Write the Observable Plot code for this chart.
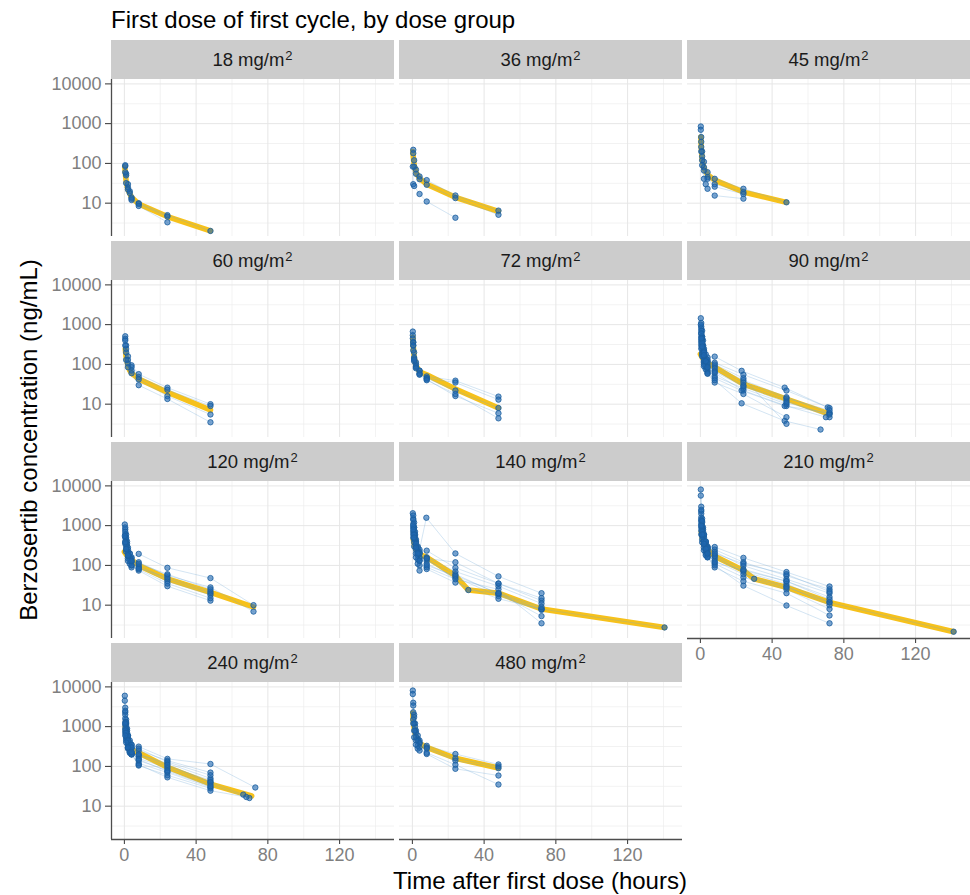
<!DOCTYPE html>
<html>
<head>
<meta charset="utf-8">
<script src="https://cdn.jsdelivr.net/npm/d3@7"></script>
<script src="https://cdn.jsdelivr.net/npm/@observablehq/plot@0.6"></script>
<style>
  body { margin: 0; background: #fff; }
  #chart { position: relative; width: 970px; height: 895px; background: #fff; font-family: "Liberation Sans", Arial, sans-serif; overflow: hidden; }
  .strip { position: absolute; background: #CCCCCC; color: #1A1A1A; font-size: 18.5px; display: flex; align-items: center; justify-content: center; }
  .strip sup { font-size: 13px; line-height: 0; position: relative; top: -4px; margin-left: 1px; }
  .ttl { position: absolute; white-space: nowrap; color: #000; }
</style>
</head>
<body>
<div id="chart"></div>
<script>
// ---------------- data ----------------
const doseLabels = ["18", "36", "45", "60", "72", "90", "120", "140", "210", "240", "480"];
const xMajor = [0, 40, 80, 120];
const xMinor = [20, 60, 100, 140];
const yMajor = [10, 100, 1000, 10000];
const yMinor = [3.1623, 31.623, 316.23, 3162.3];
const xDomain = [-7.17, 150.6];
const yDomain = [1.45, 12900];

// typical (yellow) profiles: times (h) and concentrations (ng/mL)
const typ18  = {t: [0.25, 0.5, 1, 2, 4, 8, 24, 48], c: [80, 60, 35, 22, 14, 9.5, 4.6, 2.0]};
const typ36  = {t: [0.25, 0.5, 1, 2, 4, 8, 24, 48], c: [200, 150, 90, 60, 42, 30, 14, 6.2]};
const typ45  = {t: [0.25, 0.5, 1, 2, 4, 8, 24, 48], c: [460, 250, 120, 75, 52, 38, 19, 10.5]};
const typ60  = {t: [0.5, 1, 2, 3, 4, 8, 24, 48], c: [245, 150, 95, 70, 60, 43, 20, 7.1]};
const typ72  = {t: [0.25, 0.5, 1, 2, 4, 8, 24, 48], c: [480, 300, 150, 95, 65, 55, 24, 8]};
const typ90  = {t: [0, 1, 2, 4, 8, 24, 48, 72], c: [180, 150, 130, 110, 85, 32, 13.5, 5.6]};
const typ120 = {t: [0, 1, 3, 8, 24, 48, 72], c: [220, 190, 150, 100, 46, 21, 9]};
const typ140 = {t: [0.5, 1, 2, 4, 8, 24, 31.2, 48, 72, 140.6], c: [450, 350, 250, 190, 160, 55, 24, 20, 8, 2.75]};
const typ210 = {t: [0.5, 1, 2, 4, 8, 24, 30, 48, 72, 141.2], c: [700, 500, 350, 250, 170, 75, 46, 28, 11.7, 2.15]};
const typ240 = {t: [0.5, 1, 2, 4, 8, 24, 48, 71], c: [1000, 600, 380, 260, 220, 95, 36, 18]};
const typ480 = {t: [0.25, 0.5, 1, 2, 4, 8, 24, 48], c: [2200, 1400, 900, 550, 380, 300, 160, 91]};

// individual patient profiles
const ind18 = [
  {t: [0.5, 1, 2, 3, 4, 8, 24, 48], c: [90, 55, 30, 20, 14, 10, 5, 2.0]},
  {t: [0.5, 1, 2, 3, 4, 8, 24], c: [85, 50, 25, 18, 12, 9.5, 4.6]},
  {t: [0.5, 1, 2, 4, 8, 24], c: [60, 32, 22, 13, 8.5, 3.3]}
];
const ind36 = [
  {t: [0.5, 1, 2, 4, 8, 24, 48], c: [220, 120, 70, 47, 38, 15.6, 6.5]},
  {t: [0.5, 1, 2, 4, 8, 24, 48], c: [180, 83, 55, 40, 29, 13.4, 5.1]},
  {t: [0.25, 0.5, 1, 4, 8, 24], c: [83, 30, 27, 17, 11, 4.3]}
];
const ind45 = [
  {t: [0.25, 0.5, 1, 2, 4, 8, 24, 48], c: [850, 460, 200, 110, 60, 41, 23, 10.5]},
  {t: [0.25, 0.5, 1, 2, 4, 8, 24], c: [700, 350, 150, 80, 45, 30, 19]},
  {t: [0.5, 1, 2, 4, 8, 24], c: [260, 120, 66, 41, 26, 17]},
  {t: [0.5, 1, 2, 3, 4, 8, 24], c: [200, 90, 41, 30, 23, 15.5, 13]}
];
const ind60 = [
  {t: [0.5, 1, 2, 4, 8, 24, 48], c: [510, 300, 160, 95, 57, 26, 10]},
  {t: [0.5, 1, 2, 4, 8, 24, 48], c: [440, 245, 130, 85, 48, 23, 9]},
  {t: [0.5, 1, 2, 4, 8, 24, 48], c: [300, 200, 106, 70, 42, 16, 5.5]},
  {t: [0.5, 1, 2, 4, 8, 24, 48], c: [400, 130, 85, 60, 30, 13.5, 3.5]}
];
const ind72 = [
  {t: [0.25, 0.5, 1, 2, 4, 8, 24, 48], c: [670, 360, 150, 100, 69, 50, 39, 15.5]},
  {t: [0.25, 0.5, 1, 2, 4, 8, 24, 48], c: [540, 300, 200, 113, 70, 45, 35, 13]},
  {t: [0.25, 0.5, 1, 2, 4, 8, 24, 48], c: [450, 225, 120, 85, 57, 45, 22, 8]},
  {t: [0.5, 1, 2, 4, 8, 24, 48], c: [360, 140, 90, 60, 42, 16, 5.9]},
  {t: [0.5, 1, 2, 4, 8, 24, 48], c: [300, 130, 80, 55, 40, 18, 4.4]}
];
const ind90 = [
  {t: [0.25, 0.5, 1, 1.5, 2, 4, 8, 23, 47, 71], c: [1450, 900, 500, 300, 220, 150, 157, 69, 26, 8.3]},
  {t: [0.5, 1, 1.5, 2, 3, 4, 8, 24, 48, 72], c: [1100, 700, 400, 250, 180, 120, 110, 55, 22, 8]},
  {t: [0.5, 1, 1.5, 2, 3, 4, 8, 24, 48, 72], c: [800, 500, 300, 200, 140, 100, 90, 40, 15, 6]},
  {t: [0.5, 1, 1.5, 2, 3, 4, 8, 24, 48, 72], c: [600, 400, 250, 160, 120, 90, 70, 30, 12.3, 4.7]},
  {t: [0.5, 1, 1.5, 2, 3, 4, 8, 24, 48, 70], c: [500, 300, 200, 130, 100, 80, 60, 22, 9, 4.7]},
  {t: [0.5, 1, 1.5, 2, 3, 4, 8, 24, 48], c: [400, 250, 160, 110, 85, 70, 50, 25, 10]},
  {t: [0.5, 1, 2, 3, 4, 8, 23, 47, 72], c: [350, 200, 120, 90, 65, 45, 22, 9, 6]},
  {t: [0.5, 1, 2, 3, 4, 8, 24, 48], c: [300, 180, 100, 75, 58, 35, 18, 4.7]},
  {t: [0.5, 1, 2, 4, 8, 23, 47, 67], c: [250, 160, 90, 60, 40, 10.5, 3.8, 2.3]},
  {t: [0.5, 1, 2, 4, 8, 24, 48], c: [700, 450, 220, 130, 100, 45, 3.2]},
  {t: [0.25, 0.5, 1, 2, 4, 8, 24, 48, 72], c: [1000, 600, 350, 200, 110, 80, 35, 14, 7]},
  {t: [0.5, 1, 2, 3, 4, 8, 24, 48, 72], c: [450, 280, 170, 120, 85, 65, 28, 11, 5.5]}
];
const ind120 = [
  {t: [0.25, 0.5, 1, 1.5, 2, 3, 4, 8, 24, 48, 72], c: [1070, 800, 500, 350, 250, 200, 160, 195, 87, 48, 10]},
  {t: [0.5, 1, 1.5, 2, 3, 4, 8, 24, 48, 72], c: [900, 600, 400, 280, 200, 150, 120, 56, 28, 6.9]},
  {t: [0.5, 1, 1.5, 2, 3, 4, 8, 24, 48], c: [700, 450, 300, 220, 160, 130, 100, 45, 20]},
  {t: [0.5, 1, 2, 3, 4, 8, 24, 48], c: [600, 350, 200, 150, 120, 90, 40, 18]},
  {t: [0.5, 1, 2, 3, 4, 8, 24, 48], c: [500, 300, 170, 130, 100, 74, 30, 13]},
  {t: [0.5, 1, 2, 3, 4, 8, 24, 48], c: [400, 250, 150, 110, 89, 80, 35, 15]},
  {t: [0.5, 1, 2, 4, 8, 24, 48], c: [350, 220, 130, 100, 85, 50, 22]},
  {t: [0.25, 0.5, 1, 2, 4, 8, 24, 48], c: [550, 380, 260, 180, 130, 110, 60, 25]}
];
const ind140 = [
  {t: [0.25, 0.5, 1, 1.5, 2, 4, 7.8, 24, 48, 72], c: [2050, 1500, 900, 600, 400, 250, 1580, 200, 53, 20]},
  {t: [0.5, 1, 1.5, 2, 3, 4, 8, 24, 48, 72], c: [1800, 1200, 700, 450, 300, 220, 235, 87, 35, 13]},
  {t: [0.5, 1, 1.5, 2, 3, 4, 8, 24, 48, 72], c: [1400, 900, 550, 380, 280, 200, 160, 70, 30, 11]},
  {t: [0.5, 1, 1.5, 2, 3, 4, 8, 24, 48, 72], c: [1100, 700, 450, 300, 220, 160, 132, 60, 19, 8]},
  {t: [0.5, 1, 2, 3, 4, 8, 24, 48, 72], c: [900, 550, 300, 200, 150, 110, 50, 17, 7.6]},
  {t: [0.5, 1, 2, 3, 4, 8, 24, 48, 72, 140.6], c: [700, 450, 250, 180, 130, 81, 37, 14.5, 8, 2.75]},
  {t: [0.5, 1, 2, 3, 4, 8, 24, 48, 72], c: [600, 380, 200, 140, 100, 90, 45, 25, 3.5]},
  {t: [0.5, 1, 2, 3, 4, 8, 24, 48, 72], c: [500, 300, 160, 110, 74, 100, 55, 20, 5.3]},
  {t: [0.5, 1, 2, 4, 8, 31.2, 48, 72], c: [1000, 600, 350, 200, 150, 24, 20, 9]},
  {t: [0.5, 1, 2, 3, 4, 8, 24, 48, 72], c: [800, 500, 280, 200, 132, 150, 120, 35, 15]}
];
const ind210 = [
  {t: [0.25, 0.5, 1, 1.5, 2, 3, 4, 8, 24, 48, 72], c: [8100, 3000, 1500, 900, 600, 400, 300, 290, 155, 68, 29.5]},
  {t: [0.25, 0.5, 1, 1.5, 2, 3, 4, 8, 24, 48, 72], c: [5700, 2300, 1200, 800, 550, 380, 280, 250, 120, 55, 25]},
  {t: [0.5, 1, 1.5, 2, 3, 4, 8, 24, 48, 72], c: [2000, 1000, 700, 500, 350, 260, 220, 98, 45, 20]},
  {t: [0.5, 1, 1.5, 2, 3, 4, 8, 24, 48, 72], c: [1600, 900, 600, 400, 300, 220, 180, 80, 40, 16]},
  {t: [0.5, 1, 1.5, 2, 3, 4, 8, 24, 48, 72], c: [1300, 800, 500, 350, 250, 190, 150, 70, 34, 12]},
  {t: [0.5, 1, 2, 3, 4, 8, 24, 48, 72], c: [1100, 650, 400, 280, 200, 130, 60, 30, 10]},
  {t: [0.5, 1, 2, 3, 4, 8, 24, 48, 72], c: [900, 550, 330, 230, 170, 110, 50, 25, 8]},
  {t: [0.5, 1, 2, 3, 4, 8, 24, 48, 72], c: [750, 450, 280, 200, 160, 89, 40, 20, 5.5]},
  {t: [0.5, 1, 2, 3, 4, 8, 24, 48, 72], c: [600, 380, 240, 180, 160, 100, 31, 9.8, 3.5]},
  {t: [0.5, 1, 2, 4, 8, 30, 48, 72, 141.2], c: [1400, 700, 400, 250, 170, 46, 28, 11.7, 2.15]},
  {t: [0.5, 1, 2, 3, 4, 8, 24, 48, 72], c: [2500, 1300, 600, 400, 280, 200, 110, 60, 22]},
  {t: [0.5, 1, 2, 3, 4, 8, 24, 48, 72], c: [1000, 600, 350, 260, 200, 120, 75, 40, 14]}
];
const ind240 = [
  {t: [0.25, 0.5, 1, 1.5, 2, 3, 4, 8, 24, 48, 73], c: [6000, 3000, 1500, 900, 600, 450, 350, 315, 155, 115, 29.5]},
  {t: [0.25, 0.5, 1, 1.5, 2, 3, 4, 8, 24, 48], c: [4500, 2300, 1200, 800, 550, 400, 300, 250, 140, 70]},
  {t: [0.5, 1, 1.5, 2, 3, 4, 8, 24, 48], c: [2000, 1100, 700, 500, 350, 280, 200, 120, 50]},
  {t: [0.5, 1, 1.5, 2, 3, 4, 8, 24, 48], c: [1600, 900, 600, 400, 300, 230, 180, 100, 45]},
  {t: [0.5, 1, 1.5, 2, 3, 4, 8, 24, 48, 66.3], c: [1300, 800, 500, 350, 260, 205, 160, 90, 40, 19.5]},
  {t: [0.5, 1, 2, 3, 4, 8, 24, 48, 69.7], c: [1100, 650, 400, 280, 220, 140, 80, 35, 16]},
  {t: [0.5, 1, 2, 3, 4, 8, 24, 48], c: [900, 550, 330, 250, 200, 120, 70, 30]},
  {t: [0.5, 1, 2, 3, 4, 8, 24, 48], c: [800, 500, 300, 230, 205, 105, 60, 28]},
  {t: [0.5, 1, 2, 3, 4, 8, 24, 48, 68], c: [700, 450, 280, 220, 200, 110, 53, 24.5, 17]},
  {t: [0.5, 1, 2, 4, 8, 24, 48], c: [2500, 1300, 600, 350, 280, 130, 60]},
  {t: [0.5, 1, 2, 4, 8, 24, 48], c: [1200, 700, 450, 300, 200, 110, 40]},
  {t: [0.5, 1, 2, 4, 8, 24, 48], c: [600, 400, 300, 230, 150, 75, 32]}
];
const ind480 = [
  {t: [0.25, 0.5, 1, 1.5, 2, 3, 4, 8, 24, 48], c: [8100, 4000, 2000, 1200, 800, 600, 450, 330, 205, 112]},
  {t: [0.25, 0.5, 1, 1.5, 2, 3, 4, 8, 24, 48], c: [6600, 3400, 1740, 1000, 700, 500, 400, 300, 160, 100]},
  {t: [0.5, 1, 1.5, 2, 3, 4, 8, 24, 48], c: [2300, 1200, 800, 550, 450, 380, 280, 140, 90]},
  {t: [0.5, 1, 2, 3, 4, 8, 24, 48], c: [1500, 790, 450, 330, 300, 205, 87, 59]},
  {t: [0.5, 1, 2, 3, 4, 8, 24, 48], c: [1200, 540, 350, 280, 250, 220, 110, 35]}
];

const typical = [typ18, typ36, typ45, typ60, typ72, typ90, typ120, typ140, typ210, typ240, typ480];
const individual = [ind18, ind36, ind45, ind60, ind72, ind90, ind120, ind140, ind210, ind240, ind480];

// ---------------- layout ----------------
const colLeft = [111, 399, 687];
const rowTop = [79, 280, 481, 682];
const panelW = 283, panelH = 157, stripH = 39;
const ncol = 3;
const nPanels = doseLabels.length;
const font = "'Liberation Sans', Arial, sans-serif";

const chart = document.getElementById("chart");

function addDiv(cls, html, css) {
  const d = document.createElement("div");
  d.className = cls;
  d.innerHTML = html;
  Object.assign(d.style, css);
  chart.appendChild(d);
  return d;
}

doseLabels.forEach((dose, i) => {
  const row = Math.floor(i / ncol), col = i % ncol;
  const hasY = col === 0;
  const hasX = (i + ncol) >= nPanels; // no panel below
  const ml = hasY ? 70 : 0;
  const mb = hasX ? 36 : 0;

  const pts = individual[i].flatMap((p, id) => p.t.map((t, j) => ({id, t, c: p.c[j]})));
  const typ = typical[i].t.map((t, j) => ({t, c: typical[i].c[j]}));

  const marks = [
    Plot.gridX({ticks: xMinor, stroke: "#EDEDED", strokeOpacity: 1, strokeWidth: 0.7}),
    Plot.gridY({ticks: yMinor, stroke: "#EDEDED", strokeOpacity: 1, strokeWidth: 0.7}),
    Plot.gridX({ticks: xMajor, stroke: "#E6E6E6", strokeOpacity: 1, strokeWidth: 1}),
    Plot.gridY({ticks: yMajor, stroke: "#E6E6E6", strokeOpacity: 1, strokeWidth: 1}),
    Plot.line(typ, {x: "t", y: "c", stroke: "#F6C11B", strokeWidth: 5.5, strokeLinejoin: "round"}),
    Plot.line(pts, {x: "t", y: "c", z: "id", stroke: "#6FA8D8", strokeWidth: 0.6, strokeOpacity: 0.5}),
    Plot.dot(pts, {x: "t", y: "c", r: 2.7, fill: "#1F68B0", fillOpacity: 0.6, stroke: "#1A5E9F", strokeOpacity: 0.9, strokeWidth: 0.9})
  ];
  if (hasY) {
    marks.push(Plot.axisY({ticks: yMajor, tickFormat: d => String(d), tickSize: 6, tickPadding: 4, label: null,
      fill: "#7F7F7F", stroke: "#333333", fontSize: 18}));
    marks.push(Plot.ruleX([xDomain[0]], {stroke: "#4D4D4D", strokeWidth: 1.3}));
  }
  if (hasX) {
    marks.push(Plot.axisX({ticks: xMajor, tickFormat: d => String(d), tickSize: 5, tickPadding: 4, label: null,
      fill: "#7F7F7F", stroke: "#333333", fontSize: 18}));
    marks.push(Plot.ruleY([yDomain[0]], {stroke: "#4D4D4D", strokeWidth: 1.3}));
  }

  const svg = Plot.plot({
    width: panelW + ml,
    height: panelH + mb,
    marginLeft: ml, marginRight: 0, marginTop: 0, marginBottom: mb,
    x: {type: "linear", domain: xDomain, axis: null, label: null},
    y: {type: "log", domain: yDomain, axis: null, label: null},
    style: {fontFamily: font, fontSize: "18px", background: "transparent", overflow: "visible"},
    marks
  });
  svg.style.position = "absolute";
  svg.style.left = (colLeft[col] - ml) + "px";
  svg.style.top = rowTop[row] + "px";
  svg.style.maxWidth = "none";
  chart.appendChild(svg);

  addDiv("strip", `${dose}&nbsp;mg/m<sup>2</sup>`, {
    left: colLeft[col] + "px", top: (rowTop[row] - stripH) + "px",
    width: panelW + "px", height: stripH + "px"
  });
});

// titles
addDiv("ttl", "First dose of first cycle, by dose group",
  {left: "111px", top: "8px", fontSize: "24px", lineHeight: "24px"});
addDiv("ttl", "Time after first dose (hours)",
  {left: "240px", width: "600px", textAlign: "center", top: "869px", fontSize: "24px", lineHeight: "24px"});
addDiv("ttl", "Berzosertib concentration (ng/mL)",
  {left: (29 - 300) + "px", width: "600px", textAlign: "center", top: (440 - 12) + "px",
   fontSize: "24px", lineHeight: "24px", transform: "rotate(-90deg)", transformOrigin: "50% 50%"});
</script>
</body>
</html>
